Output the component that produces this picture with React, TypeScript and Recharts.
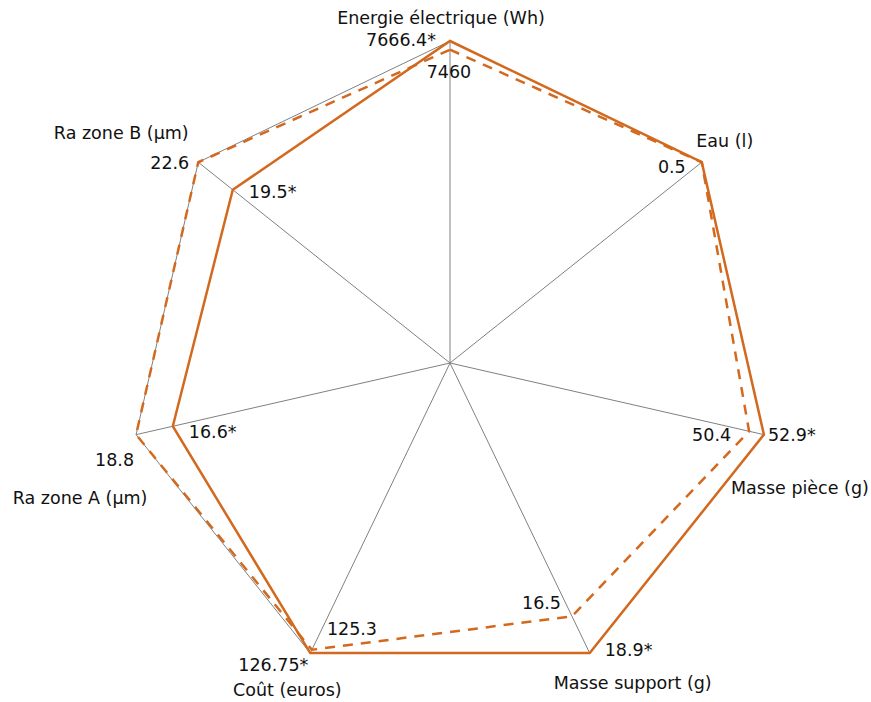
import React from 'react';
import { RadarChart, Radar, PolarGrid, PolarAngleAxis, PolarRadiusAxis } from 'recharts';

const axes = ['Energie électrique (Wh)', 'Eau (l)', 'Masse pièce (g)', 'Masse support (g)', 'Coût (euros)', 'Ra zone A (µm)', 'Ra zone B (µm)'];
const solidValues = [7666.4, 0.5, 52.9, 18.9, 126.75, 16.6, 19.5];
const dashedValues = [7460, 0.5, 50.4, 16.5, 125.3, 18.8, 22.6];
const solidLabels = ['7666.4*', '', '52.9*', '18.9*', '126.75*', '16.6*', '19.5*'];
const dashedLabels = ['7460', '0.5', '50.4', '16.5', '125.3', '18.8', '22.6'];

// layout (label placement relative to computed points)
const axisLabelOffsets: [number, number][] = [[-9, -23], [23, -21], [36, 53], [43, 30], [-23, 37], [-56, 63], [-77, -29]];
const solidLabelPos: [string, number, number][] = [['end', -14, -1], ['end', 0, 0], ['start', 4, 0], ['start', 15, -3], ['end', -2, 12], ['start', 16, 6], ['start', 16, 2]];
const dashedLabelPos: [string, number, number][] = [['middle', -1, 22], ['end', -16, 5], ['end', -18, 4], ['end', -11, -13], ['start', 15, -21], ['end', -2, 25], ['end', -9, 1]];

const CX = 450;
const CY = 363;
const R = 322;
const COLOR = '#D2691E';
const FONT = 'DejaVu Sans, Verdana, sans-serif';
const FS = 17.5;

const data = axes.map((a, i) => {
  const m = Math.max(solidValues[i], dashedValues[i]);
  return { axis: a, solid: solidValues[i] / m, dashed: dashedValues[i] / m };
});

const makeDot = (labels: string[], pos: [string, number, number][]) => (props: any) => {
  const i = props.index;
  const t = labels[i];
  if (!t) return <g key={`d-${i}`} />;
  const [anchor, dx, dy] = pos[i];
  return (
    <text key={`d-${i}`} x={props.cx + dx} y={props.cy + dy} textAnchor={anchor as any} dominantBaseline="central"
      fontFamily={FONT} fontSize={FS} fill="#111">{t}</text>
  );
};

const AxisTick = (props: any) => {
  const { payload } = props;
  const i = payload.index ?? axes.indexOf(payload.value);
  const ang = (payload.coordinate * Math.PI) / 180;
  const vx = CX + R * Math.cos(ang);
  const vy = CY - R * Math.sin(ang);
  const [dx, dy] = axisLabelOffsets[i];
  return (
    <text x={vx + dx} y={vy + dy} textAnchor="middle" dominantBaseline="central" fontFamily={FONT} fontSize={FS} fill="#111">
      {payload.value}
    </text>
  );
};

export default function App() {
  return (
    <div style={{ position: 'absolute', left: 0, top: 0, width: 871, height: 702, background: '#fff' }}>
      <RadarChart width={871} height={702} data={data} cx={CX} cy={CY} outerRadius={R} margin={{ top: 0, right: 0, bottom: 0, left: 0 }}>
        <PolarGrid polarRadius={[R]} stroke="#808080" strokeWidth={1} gridType="polygon" />
        <PolarAngleAxis dataKey="axis" tick={<AxisTick />} tickLine={false} axisLine={false} />
        <PolarRadiusAxis domain={[0, 1]} tick={false} axisLine={false} />
        <Radar dataKey="dashed" stroke={COLOR} strokeWidth={2.5} strokeDasharray="10 8" fill="none" fillOpacity={0}
          isAnimationActive={false} dot={makeDot(dashedLabels, dashedLabelPos)} />
        <Radar dataKey="solid" stroke={COLOR} strokeWidth={2.5} fill="none" fillOpacity={0}
          isAnimationActive={false} dot={makeDot(solidLabels, solidLabelPos)} />
      </RadarChart>
    </div>
  );
}
